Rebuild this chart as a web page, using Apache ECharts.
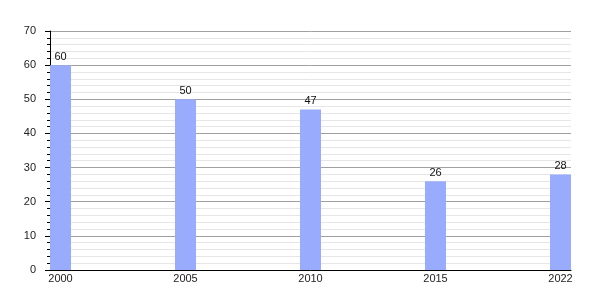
<!DOCTYPE html>
<html><head><meta charset="utf-8">
<script src="https://cdn.jsdelivr.net/npm/echarts@6/dist/echarts.min.js"></script>
<style>html,body{margin:0;padding:0;background:#fff}#c{width:600px;height:300px}</style>
</head><body><div id="c"></div>
<script>
const categories = ['2000', '2005', '2010', '2015', '2022'];
const values = [60, 50, 47, 26, 28];
const yTicks = [0, 10, 20, 30, 40, 50, 60, 70];

const chart = echarts.init(document.getElementById('c'), null, {renderer: 'canvas'});
const font = 'Liberation Sans, Arial, sans-serif';
chart.setOption({
  animation: false,
  grid: {left: 50, right: 29, top: 31, bottom: 30, containLabel: false},
  xAxis: {
    type: 'value',
    min: -0.084,
    max: 4.084,
    axisLine: {show: true, onZero: false, lineStyle: {color: '#000', width: 1}},
    axisTick: {show: false},
    splitLine: {show: false},
    axisLabel: {
      customValues: categories.map((c, i) => i),
      formatter: v => categories[Math.round(v)],
      color: '#222', fontFamily: font, fontSize: 11, margin: 3
    }
  },
  yAxis: {
    type: 'value',
    min: yTicks[0],
    max: yTicks[yTicks.length - 1],
    interval: 10,
    axisLine: {show: true, onZero: false, lineStyle: {color: '#000', width: 1}},
    axisTick: {show: true, length: 5, lineStyle: {color: '#000'}},
    minorTick: {show: true, splitNumber: 5, length: 3, lineStyle: {color: '#000'}},
    splitLine: {show: true, lineStyle: {color: '#a0a0a0', width: 1}},
    minorSplitLine: {show: true, lineStyle: {color: '#e6e6e6', width: 1}},
    axisLabel: {color: '#222', fontFamily: font, fontSize: 11, margin: 14}
  },
  series: [{
    type: 'bar',
    barWidth: 21,
    data: values.map((v, i) => [i, v]),
    itemStyle: {color: '#99abfc'},
    label: {show: true, position: 'top', distance: 3, color: '#111', fontFamily: font, fontSize: 11}
  }]
});
</script></body></html>
